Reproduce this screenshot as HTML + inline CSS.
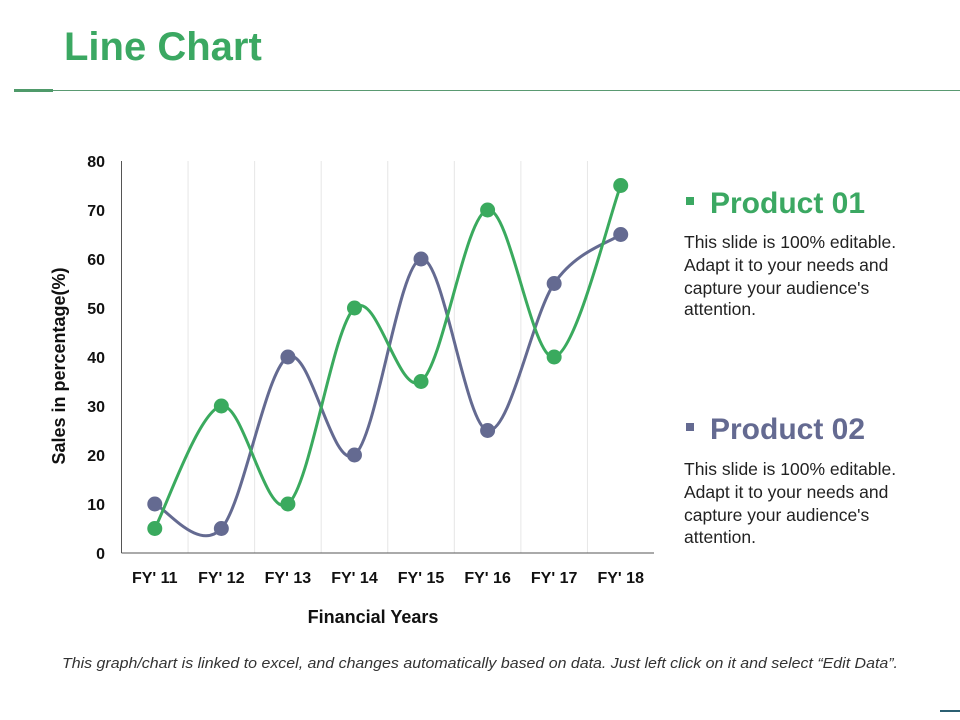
<!DOCTYPE html>
<html><head><meta charset="utf-8"><style>
html,body{margin:0;padding:0;background:#fff;}
svg{display:block;font-family:"Liberation Sans",Arial,sans-serif;}
</style></head><body>
<svg width="960" height="720" viewBox="0 0 960 720">
<text x="64" y="60" font-size="40" font-weight="bold" fill="#3ba862">Line Chart</text>
<rect x="14" y="89" width="39" height="3" fill="#4f9a6a"/>
<rect x="53" y="90" width="907" height="1" fill="#5a9a72"/>
<g id="chart"></g>
<text x="0" y="0" transform="translate(65,366) rotate(-90)" text-anchor="middle" font-size="18" font-weight="bold" fill="#111">Sales in percentage(%)</text>
<text x="373" y="623" text-anchor="middle" font-size="18" font-weight="bold" fill="#111">Financial Years</text>
<g>
<rect x="686" y="197" width="8" height="8" fill="#3ba862"/>
<text x="710" y="213" font-size="30" font-weight="bold" fill="#3ba862">Product 01</text>
<text font-size="17.5" fill="#222"><tspan x="684" y="248">This slide is 100% editable.</tspan><tspan x="684" y="271">Adapt it to your needs and</tspan><tspan x="684" y="294">capture your audience's</tspan><tspan x="684" y="315">attention.</tspan></text>
</g>
<g>
<rect x="686" y="423" width="8" height="8" fill="#646a91"/>
<text x="710" y="439" font-size="30" font-weight="bold" fill="#646a91">Product 02</text>
<text font-size="17.5" fill="#222"><tspan x="684" y="475">This slide is 100% editable.</tspan><tspan x="684" y="498">Adapt it to your needs and</tspan><tspan x="684" y="521">capture your audience's</tspan><tspan x="684" y="543">attention.</tspan></text>
</g>
<text x="62" y="668" font-size="14.5" font-style="italic" fill="#333" textLength="836" lengthAdjust="spacingAndGlyphs" style="font-family:'Liberation Sans Narrow','Liberation Sans',sans-serif">This graph/chart is linked to excel, and changes automatically based on data. Just left click on it and select “Edit Data”.</text>
<rect x="940" y="710" width="20" height="2" fill="#2b5f72"/>
</svg>
<script>
const categories = ["FY' 11","FY' 12","FY' 13","FY' 14","FY' 15","FY' 16","FY' 17","FY' 18"];
const product01 = [5,30,10,50,35,70,40,75];
const product02 = [10,5,40,20,60,25,55,65];
const yTicks = [0,10,20,30,40,50,60,70,80];

const NS='http://www.w3.org/2000/svg';
const g=document.getElementById('chart');
const pLeft=121.5,pRight=654,pTop=161,pBottom=553,yMax=80;
const band=(pRight-pLeft)/categories.length;
const xs=i=>pLeft+band*(i+0.5);
const ys=v=>pBottom-(v/yMax)*(pBottom-pTop);
function mk(tag,attrs){const e=document.createElementNS(NS,tag);for(const k in attrs)e.setAttribute(k,attrs[k]);g.appendChild(e);return e;}
for(let i=1;i<categories.length;i++){
  const l=mk('line',{x1:pLeft+band*i,x2:pLeft+band*i,y1:pTop,y2:pBottom,stroke:'#e6e6e6','stroke-width':1});
  
  
}
const ax=mk('line',{x1:pLeft,x2:pLeft,y1:pTop,y2:pBottom,stroke:'#555','stroke-width':1});


const bx=mk('line',{x1:pLeft,x2:pRight,y1:pBottom,y2:pBottom,stroke:'#555','stroke-width':1});


yTicks.forEach(v=>{
  const t=mk('text',{x:105,y:ys(v)+6,'text-anchor':'end','font-size':16,'font-weight':'bold',fill:'#111'});
  t.textContent=v;
  
  
});
categories.forEach((c,i)=>{
  const t=mk('text',{x:xs(i),y:583,'text-anchor':'middle','font-size':16,'font-weight':'bold',fill:'#111'});
  t.textContent=c;
  
  
});
function smooth(vals){
  const p=vals.map((v,i)=>[xs(i),ys(v)]);
  let d='M'+p[0][0]+','+p[0][1];
  for(let i=0;i<p.length-1;i++){
    const p0=p[i-1]||p[i],p1=p[i],p2=p[i+1],p3=p[i+2]||p[i+1];
    const c1=[p1[0]+(p2[0]-p0[0])/6,p1[1]+(p2[1]-p0[1])/6];
    const c2=[p2[0]-(p3[0]-p1[0])/6,p2[1]-(p3[1]-p1[1])/6];
    d+=' C'+c1+' '+c2+' '+p2;
  }
  return d;
}
function series(vals,color,name){
  const path=mk('path',{d:smooth(vals),fill:'none',stroke:color,'stroke-width':3});
  
  
  vals.forEach((v,i)=>{
    const c=mk('circle',{cx:xs(i),cy:ys(v),r:7.5,fill:color});
    
    
  });
}
series(product02,'#646a91','product-02');
series(product01,'#3aaa5e','product-01');
</script>
</body></html>
